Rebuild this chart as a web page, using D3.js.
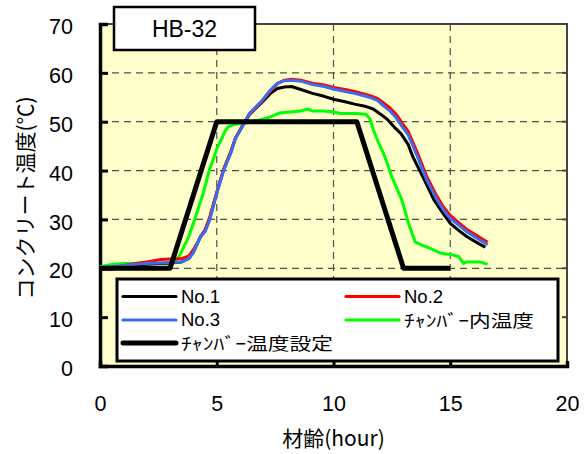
<!DOCTYPE html>
<html>
<head>
<meta charset="utf-8">
<script src="https://cdn.jsdelivr.net/npm/d3@7"></script>
<style>
  html, body { margin: 0; padding: 0; background: #fff; }
  svg { display: block; }
</style>
</head>
<body>
<svg id="chart" width="587" height="454"></svg>
<script>
// Curing test HB-32: concrete temperatures vs. age, chamber temperature and setpoint
const chartTitle = "HB-32";
const xTicks = [0, 5, 10, 15, 20];
const yTicks = [0, 10, 20, 30, 40, 50, 60, 70];

// age (hour) / temperature (°C)
const no1Time = [0, 0.5, 1, 1.5, 2, 2.5, 3, 3.5, 3.8, 4.0, 4.3, 4.5, 4.7, 5.0, 5.3, 5.6, 5.8, 6.1, 6.4, 6.9, 7.3, 7.6, 7.9, 8.2, 8.6, 9.1, 9.6, 10, 10.5, 10.9, 11.4, 11.7, 12.0, 12.3, 12.6, 12.9, 13.2, 13.4, 13.9, 14.3, 14.7, 15.0, 15.4, 15.7, 16.2, 16.5];
const no1Temp = [20.0, 20.1, 20.3, 20.6, 20.8, 21.0, 21.1, 21.3, 22.0, 23.3, 26.5, 27.8, 30.2, 35.5, 40.3, 43.8, 46.6, 49.1, 51.5, 53.8, 55.8, 56.8, 57.1, 57.2, 56.6, 55.8, 55.2, 54.6, 54.1, 53.6, 53.1, 52.6, 51.6, 50.5, 48.9, 47.5, 45.3, 42.8, 38.0, 34.0, 31.2, 29.2, 27.6, 26.5, 25.1, 24.3];

const no2Time = [0, 0.5, 0.8, 1.5, 2.0, 2.6, 3.0, 3.5, 3.8, 4.0, 4.3, 4.5, 4.7, 5.0, 5.3, 5.6, 5.8, 6.1, 6.4, 6.9, 7.3, 7.6, 7.9, 8.2, 8.6, 9.1, 9.6, 10, 10.5, 10.9, 11.3, 11.6, 11.9, 12.1, 12.4, 12.7, 13.0, 13.2, 13.6, 14.0, 14.4, 14.7, 15, 15.4, 15.7, 16.2, 16.6];
const no2Temp = [19.8, 19.8, 20.3, 21.0, 21.3, 21.8, 21.9, 22.0, 22.5, 23.8, 26.3, 27.8, 30.5, 35.5, 40.3, 43.8, 46.6, 49.2, 51.6, 54.0, 56.3, 57.8, 58.5, 58.7, 58.5, 57.9, 57.5, 57.0, 56.6, 56.2, 55.7, 55.3, 54.7, 54.0, 52.9, 51.4, 49.3, 48.0, 43.6, 38.7, 35.0, 32.6, 30.8, 29.2, 28.0, 26.5, 25.3];

const no3Time = [0, 0.5, 1, 1.5, 2, 2.5, 3, 3.5, 3.8, 4.0, 4.3, 4.5, 4.7, 5.0, 5.3, 5.6, 5.8, 6.1, 6.4, 6.9, 7.3, 7.6, 7.9, 8.2, 8.6, 9.1, 9.6, 10, 10.5, 10.9, 11.3, 11.6, 11.9, 12.1, 12.4, 12.7, 13.0, 13.2, 13.6, 14.0, 14.4, 14.7, 15, 15.4, 15.7, 16.2, 16.6];
const no3Temp = [20.2, 20.3, 20.5, 20.8, 21.0, 21.1, 21.2, 21.3, 22.0, 23.2, 26.5, 27.5, 29.9, 35.3, 40.1, 43.5, 46.6, 49.0, 51.7, 54.1, 56.5, 57.9, 58.4, 58.5, 58.3, 57.6, 57.2, 56.7, 56.2, 55.8, 55.3, 54.9, 54.3, 53.4, 52.3, 50.7, 48.6, 47.3, 42.8, 38.0, 34.3, 32.0, 30.2, 28.7, 27.5, 26.0, 24.8];

const chamberTime = [0, 0.5, 1, 2, 3, 3.2, 3.4, 3.6, 3.8, 4.07, 4.4, 4.67, 4.9, 5.0, 5.19, 5.35, 5.5, 5.8, 6.3, 6.8, 7.3, 7.7, 8.14, 8.6, 8.9, 9.1, 9.6, 10, 10.3, 11.0, 11.4, 11.57, 11.71, 11.9, 12.14, 12.3, 12.5, 12.7, 12.93, 13.21, 13.5, 13.8, 14.14, 14.57, 15.14, 15.36, 15.57, 15.71, 16.29, 16.6];
const chamberTemp = [20.3, 20.8, 21.0, 21.0, 21.0, 21.2, 22.5, 24.5, 26.5, 30.2, 35.0, 39.9, 43.0, 44.5, 46.3, 48.0, 49.0, 49.5, 49.8, 50.3, 51.0, 51.8, 52.0, 52.2, 52.6, 52.2, 52.2, 52.0, 51.7, 51.7, 51.5, 50.5, 48.3, 46.0, 43.5, 41.5, 38.7, 36.5, 34.0, 29.2, 25.4, 24.7, 24.1, 23.1, 22.7, 22.4, 21.0, 21.3, 21.3, 20.8];

const setTime = [0, 3, 5, 11, 13, 15];
const setTemp = [20, 20, 50, 50, 20, 20];

const seriesNames = ["No.1", "No.2", "No.3", "ﾁｬﾝﾊﾞｰ内温度", "ﾁｬﾝﾊﾞｰ温度設定"];

const xTitle = "材齢(hour)";
const yTitle = "コンクリート温度(℃)";

// ---- layout ----
const svg = d3.select("#chart");
const L = 100, R = 567, T = 24, B = 366;
const x = d3.scaleLinear().domain([0, 20]).range([L, R]);
const y = d3.scaleLinear().domain([0, 70]).range([B, T]);

const numFont = "'Liberation Sans', Arial, sans-serif";
const jpFont = "'Noto Sans CJK JP', 'Liberation Sans', sans-serif";

// plot background
svg.append("rect").attr("x", L).attr("y", T).attr("width", R - L).attr("height", B - T)
  .attr("fill", "#FFFFCC");

// dashed grid
const grid = svg.append("g").attr("stroke", "#505050").attr("stroke-width", 1.2)
  .attr("stroke-dasharray", "7,5");
[20, 30, 40, 50, 60].forEach(v => {
  grid.append("line").attr("x1", L).attr("x2", R).attr("y1", y(v)).attr("y2", y(v));
});
[5, 10, 15].forEach(v => {
  grid.append("line").attr("x1", x(v)).attr("x2", x(v)).attr("y1", T).attr("y2", B);
});

// top/right frame
svg.append("path").attr("d", `M${L},${T}H${R}V${B}`).attr("fill", "none")
  .attr("stroke", "#444").attr("stroke-width", 2);

// right-side inner ticks
yTicks.slice(1, -1).forEach(v => {
  svg.append("line").attr("x1", R - 5).attr("x2", R).attr("y1", y(v)).attr("y2", y(v))
    .attr("stroke", "#444").attr("stroke-width", 2);
});

// axes
const yAxis = d3.axisLeft(y).tickValues(yTicks).tickSize(-8).tickPadding(27)
  .tickFormat(d3.format("d"));
const yg = svg.append("g").attr("transform", `translate(${L},0)`).call(yAxis);
yg.select(".domain").attr("stroke", "#000").attr("stroke-width", 3.5);
yg.selectAll(".tick line").attr("stroke", "#000").attr("stroke-width", 3);
yg.selectAll(".tick text").attr("font-family", numFont).attr("font-size", 21.5)
  .attr("fill", "#000").attr("dy", "0.45em");

const xAxis = d3.axisBottom(x).tickValues(xTicks).tickSize(-5).tickPadding(30)
  .tickFormat(d3.format("d"));
const xg = svg.append("g").attr("transform", `translate(0,${B})`).call(xAxis);
xg.select(".domain").attr("stroke", "#000").attr("stroke-width", 3.5);
xg.selectAll(".tick line").attr("stroke", "#000").attr("stroke-width", 3);
xg.selectAll(".tick text").attr("font-family", numFont).attr("font-size", 21.5)
  .attr("fill", "#000");

// series lines
const line = d3.line().x(d => x(d[0])).y(d => y(d[1]));
const zip = (a, b) => a.map((v, i) => [v, b[i]]);
const series = [
  { name: seriesNames[3], data: zip(chamberTime, chamberTemp), color: "#00FF00", w: 3, len: 130, jp: true },
  { name: seriesNames[0], data: zip(no1Time, no1Temp), color: "#000000", w: 3 },
  { name: seriesNames[1], data: zip(no2Time, no2Temp), color: "#FF0000", w: 3 },
  { name: seriesNames[2], data: zip(no3Time, no3Temp), color: "#3C6CF0", w: 3 },
  { name: seriesNames[4], data: zip(setTime, setTemp), color: "#000000", w: 5, len: 152, jp: true }
];
svg.append("g").selectAll("path").data(series).join("path")
  .attr("d", s => line(s.data))
  .attr("fill", "none")
  .attr("stroke", s => s.color)
  .attr("stroke-width", s => s.w)
  .attr("stroke-linejoin", "round");

// title box
svg.append("rect").attr("x", 114).attr("y", 7).attr("width", 141).attr("height", 43)
  .attr("fill", "#fff").attr("stroke", "#000").attr("stroke-width", 2.5);
svg.append("text").attr("x", 184.5).attr("y", 36.5).attr("text-anchor", "middle")
  .attr("font-family", numFont).attr("font-size", 23).text(chartTitle);

// legend
svg.append("rect").attr("x", 117).attr("y", 279).attr("width", 441).attr("height", 82)
  .attr("fill", "#fff").attr("stroke", "#000").attr("stroke-width", 3);
const legendItems = [
  { s: series[1], col: 0, row: 0 },
  { s: series[2], col: 1, row: 0 },
  { s: series[3], col: 0, row: 1 },
  { s: series[0], col: 1, row: 1 },
  { s: series[4], col: 0, row: 2 }
];
const colX = [123, 346], rowY = [296.5, 320, 343];
const lg = svg.append("g");
legendItems.forEach(it => {
  const x0 = colX[it.col], yy = rowY[it.row];
  lg.append("line").attr("x1", x0).attr("x2", x0 + 53).attr("y1", yy).attr("y2", yy)
    .attr("stroke", it.s.color).attr("stroke-width", it.s.w === 5 ? 5 : 3.2)
    .attr("stroke-linecap", "round");
  const t = lg.append("text").attr("x", x0 + 58).attr("y", yy)
    .attr("dy", it.s.jp ? "0.42em" : "0.33em")
    .attr("font-family", it.s.jp ? jpFont : numFont)
    .attr("font-size", it.s.jp ? 17 : 18.5).text(it.s.name);
  if (it.s.len) t.attr("textLength", it.s.len).attr("lengthAdjust", "spacingAndGlyphs");
});

// axis titles
svg.append("text").attr("x", x(10)).attr("y", 446).attr("text-anchor", "middle")
  .attr("font-family", jpFont).attr("font-size", 21).text(xTitle);
svg.append("text").attr("transform", `translate(33,198) rotate(-90)`)
  .attr("text-anchor", "middle").attr("font-family", jpFont).attr("font-size", 21)
  .text(yTitle);
</script>
</body>
</html>
